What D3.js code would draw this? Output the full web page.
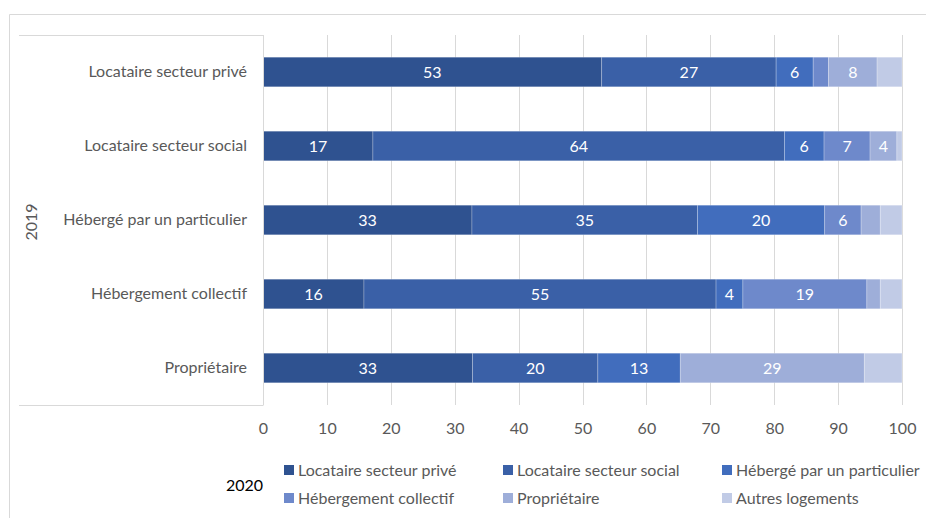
<!DOCTYPE html>
<meta charset="utf-8">
<style>
body { margin: 0; background: #fff; }
svg text { font-family: Lato, "Open Sans", sans-serif; }
</style>
<svg width="926" height="518"></svg>
<script src="https://cdn.jsdelivr.net/npm/d3@7"></script>
<script>

var categories = ["Locataire secteur privé", "Locataire secteur social", "Hébergé par un particulier", "Hébergement collectif", "Propriétaire"];
var seriesNames = ["Locataire secteur privé", "Locataire secteur social", "Hébergé par un particulier", "Hébergement collectif", "Propriétaire", "Autres logements"];
var seriesColors = ["#2f5290", "#3a60a7", "#416dbd", "#6e89cb", "#9eaed9", "#c1cbe6"];

// one array per series, in category order
var prive = [53, 17.2, 32.7, 15.8, 32.8];
var social = [27.3, 64.4, 35.3, 55.1, 19.6];
var particulier = [5.8, 6.2, 19.9, 4.2, 12.9];
var collectif = [2.4, 7.2, 5.7, 19.4, 0];
var proprietaire = [7.6, 4.2, 3.0, 2.1, 28.8];
var autres = [3.9, 0.8, 3.4, 3.4, 5.9];

var xTicks = [0, 10, 20, 30, 40, 50, 60, 70, 80, 90, 100];

var allSeries = [prive, social, particulier, collectif, proprietaire, autres];

var svg = d3.select("svg");
var grey = "#d9d9d9";
var fontSize = "16px";

var x = d3.scaleLinear().domain([0, 100]).range([263, 902]);
var y = d3.scaleBand().domain(categories).range([35, 405])
    .paddingInner(0.6).paddingOuter(0.3);

// frame
svg.append("line").attr("x1", 9.5).attr("x2", 926).attr("y1", 14.5).attr("y2", 14.5).attr("stroke", grey);
svg.append("line").attr("x1", 9.5).attr("x2", 9.5).attr("y1", 14.5).attr("y2", 518).attr("stroke", grey);
svg.append("line").attr("x1", 19).attr("x2", 263).attr("y1", 35.5).attr("y2", 35.5).attr("stroke", grey);
svg.append("line").attr("x1", 19).attr("x2", 263).attr("y1", 405.5).attr("y2", 405.5).attr("stroke", grey);

// gridlines
svg.append("g").selectAll("line")
  .data(xTicks)
  .enter().append("line")
    .attr("x1", function(d) { return Math.round(x(d)) + 0.5; })
    .attr("x2", function(d) { return Math.round(x(d)) + 0.5; })
    .attr("y1", 35)
    .attr("y2", 405)
    .attr("stroke", grey);

// stacked data
var rows = categories.map(function(c, i) {
  var r = { cat: c };
  seriesNames.forEach(function(s, j) { r[s] = allSeries[j][i]; });
  return r;
});
var stacked = d3.stack().keys(seriesNames)(rows);

var layers = svg.append("g").selectAll("g")
  .data(stacked)
  .enter().append("g")
    .attr("fill", function(d, i) { return seriesColors[i]; });

layers.selectAll("rect")
  .data(function(d) { return d; })
  .enter().append("rect")
    .attr("x", function(d) { return x(d[0]); })
    .attr("width", function(d) { return x(d[1]) - x(d[0]); })
    .attr("y", function(d) { return y(d.data.cat); })
    .attr("height", y.bandwidth())
    .attr("stroke", "#ffffff")
    .attr("stroke-opacity", 0.3)
    .attr("stroke-width", 0.8);

// data labels (not for "Autres logements", not for tiny parts)
layers.filter(function(d, i) { return i < 5; })
  .selectAll("text")
  .data(function(d) { return d.filter(function(p) { return p[1] - p[0] >= 3.5; }); })
  .enter().append("text")
    .attr("x", function(d) { return x((d[0] + d[1]) / 2); })
    .attr("y", function(d) { return y(d.data.cat) + y.bandwidth() / 2; })
    .attr("dy", "0.36em")
    .attr("text-anchor", "middle")
    .style("fill", "#fff")
    .style("font-size", fontSize)
    .text(function(d) { return d3.format(".0f")(d[1] - d[0]); });

// category labels
var yAxis = svg.append("g")
    .attr("transform", "translate(263,0)")
    .call(d3.axisLeft(y).tickSize(0).tickPadding(16));
yAxis.select(".domain").attr("stroke", grey);
yAxis.selectAll("text").style("font-size", fontSize).style("fill", "#595959")
    .style("font-family", "Lato, sans-serif");

// x tick labels
var xAxis = svg.append("g")
    .attr("transform", "translate(0,405)")
    .call(d3.axisBottom(x).tickValues(xTicks).tickSize(0).tickPadding(18));
xAxis.select(".domain").remove();
xAxis.selectAll("text").style("font-size", fontSize).style("fill", "#595959")
    .style("font-family", "Lato, sans-serif");

// year labels
svg.append("text")
    .attr("transform", "translate(31,222) rotate(-90)")
    .attr("text-anchor", "middle")
    .attr("dy", "0.36em")
    .style("font-size", fontSize)
    .style("fill", "#595959")
    .text("2019");

svg.append("text")
    .attr("x", 263)
    .attr("y", 485)
    .attr("dy", "0.36em")
    .attr("text-anchor", "end")
    .style("font-size", fontSize)
    .style("fill", "#000")
    .text("2020");

// legend
var legendX = [284, 503, 722];
var legendY = [470, 498];
var legend = svg.append("g").selectAll("g")
  .data(seriesNames)
  .enter().append("g")
    .attr("transform", function(d, i) {
      return "translate(" + legendX[i % 3] + "," + legendY[Math.floor(i / 3)] + ")";
    });
legend.append("rect")
    .attr("x", 0).attr("y", -5)
    .attr("width", 10).attr("height", 10)
    .attr("fill", function(d, i) { return seriesColors[i]; });
legend.append("text")
    .attr("x", 14)
    .attr("dy", "0.36em")
    .style("font-size", fontSize)
    .style("fill", "#595959")
    .text(function(d) { return d; });

</script>
